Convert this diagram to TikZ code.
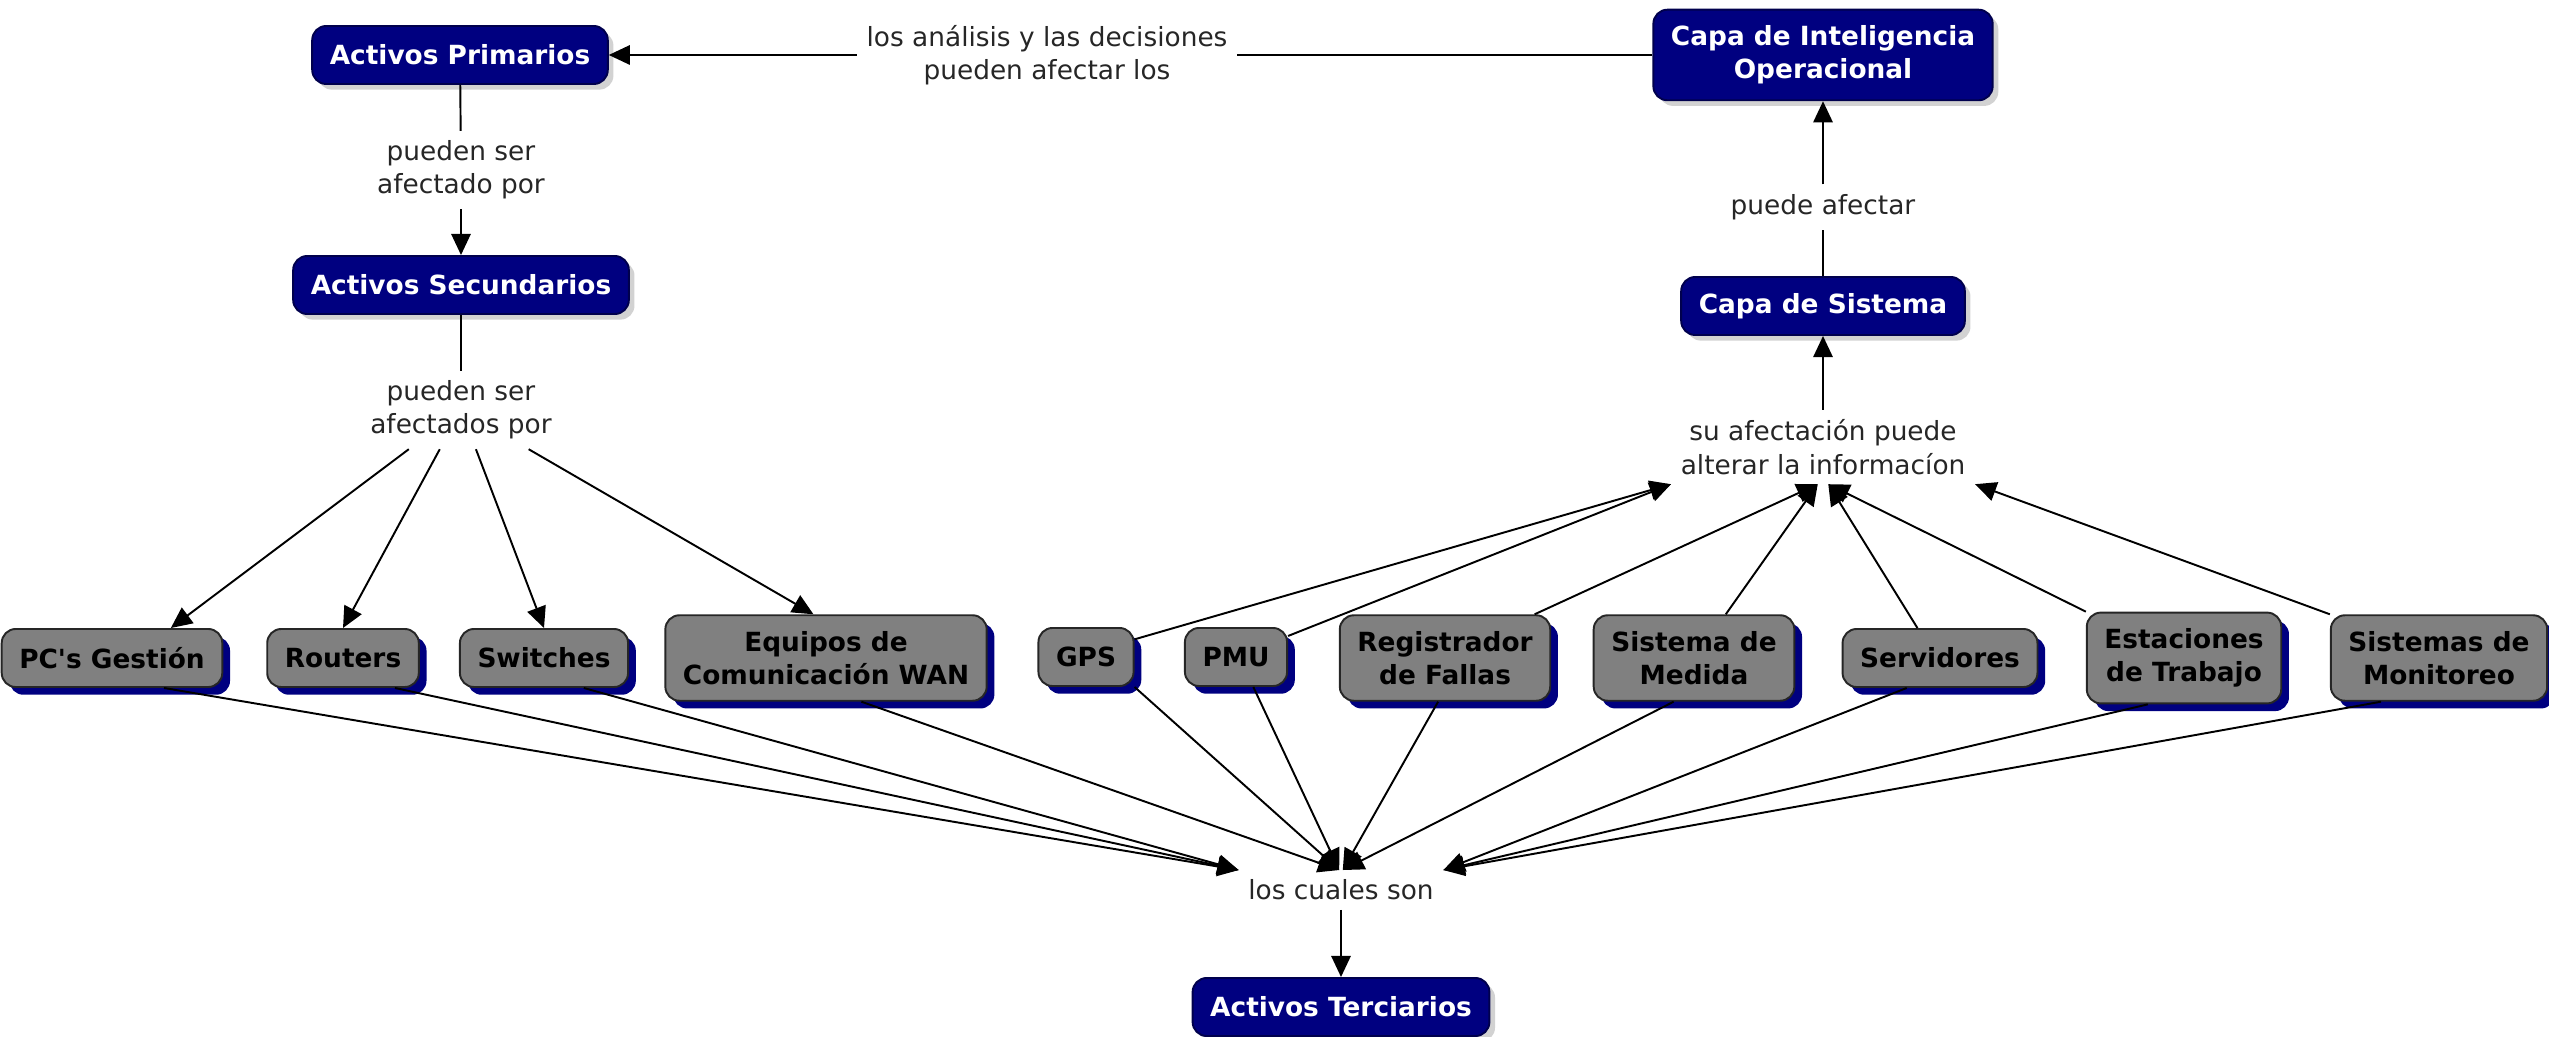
\documentclass[tikz,border=0pt]{standalone}
\usepackage{fontspec}
\setmainfont{DejaVu Sans}
\usetikzlibrary{arrows.meta, positioning, shadows}

\definecolor{navy}{RGB}{0,0,128}
\definecolor{nodegray}{RGB}{128,128,128}

\begin{document}
\begin{tikzpicture}[x=0.01cm, y=-0.01cm, line width=0.55pt]
    \tikzstyle{activo} = [draw=navy!60!black, fill=navy, text=white, rounded corners=4pt, align=center, font={\fontsize{7.5}{9.5}\selectfont\bfseries}, inner xsep=5pt, inner ysep=4.5pt, minimum height=16.5pt, drop shadow={shadow xshift=1.6pt, shadow yshift=-1.6pt, fill=black!35, opacity=0.5}];
    \tikzstyle{equipo} = [draw=black!85, fill=nodegray, text=black, rounded corners=4pt, align=center, font={\fontsize{7.5}{9.5}\selectfont\bfseries}, inner xsep=5pt, inner ysep=4.5pt, minimum height=16.5pt, drop shadow={shadow xshift=2.2pt, shadow yshift=-2.2pt, fill=navy, opacity=1}];
    \tikzstyle{enlace} = [text=black!85, align=center, font={\fontsize{7.5}{9.5}\selectfont}, inner sep=2.5pt];
    \tikzstyle{flecha} = [-{Triangle[length=6pt, width=5.5pt]}];

    \useasboundingbox (0,0) rectangle (2549,1037);

    % conceptos principales
    \node[activo] (ap) at (460, 55) {Activos Primarios};
    \node[activo] (asec) at (461, 285) {Activos Secundarios};
    \node[activo] (ci) at (1823, 55) {Capa de Inteligencia\\Operacional};
    \node[activo] (cs) at (1823, 306) {Capa de Sistema};
    \node[activo] (at) at (1341, 1007) {Activos Terciarios};

    % frases de enlace
    \node[enlace] (an) at (1047, 55) {los análisis y las decisiones\\pueden afectar los};
    \node[enlace] (p1) at (461, 170) {pueden ser\\afectado por};
    \node[enlace] (p2) at (461, 410) {pueden ser\\afectados por};
    \node[enlace] (pa) at (1823, 207) {puede afectar};
    \node[enlace] (su) at (1823, 447) {su afectación puede\\alterar la informacíon};
    \node[enlace] (cual) at (1341, 890) {los cuales son};

    % equipos
    \node[equipo] (pc) at (112, 658) {PC\textquotesingle s Gestión};
    \node[equipo] (rt) at (343, 658) {Routers};
    \node[equipo] (sw) at (544, 658) {Switches};
    \node[equipo] (wan) at (826, 658) {Equipos de\\Comunicación WAN};
    \node[equipo] (gps) at (1086, 657) {GPS};
    \node[equipo] (pmu) at (1236, 657) {PMU};
    \node[equipo] (reg) at (1445, 658) {Registrador\\de Fallas};
    \node[equipo] (med) at (1694, 658) {Sistema de\\Medida};
    \node[equipo] (serv) at (1940, 658) {Servidores};
    \node[equipo] (est) at (2184, 658) {Estaciones\\de Trabajo};
    \node[equipo] (mon) at (2439, 658) {Sistemas de\\Monitoreo};

    \draw (ap) -- (p1);
    \draw[flecha] (p1) -- (asec);
    \draw (asec) -- (p2);
    \draw[flecha] (p2) -- (pc.27);
    \draw[flecha] (p2) -- (rt.north);
    \draw[flecha] (p2) -- (sw.north);
    \draw[flecha] (p2) -- (wan.106);

    \draw (ci) -- (an);
    \draw[flecha] (an) -- (ap);
    \draw (cs) -- (pa);
    \draw[flecha] (pa) -- (ci);
    \draw[flecha] (su) -- (cs);

    \draw[flecha] (gps.20) -- (su.south west);
    \draw[flecha] (pmu.22) -- (su.south west);
    \draw[flecha] (reg.26) -- ([xshift=-1.5pt]su.south);
    \draw[flecha] (med.54) -- ([xshift=-1.5pt]su.south);
    \draw[flecha] (serv.127) -- ([xshift=1.5pt]su.south);
    \draw[flecha] (est.north west) -- ([xshift=1.5pt]su.south);
    \draw[flecha] (mon.north west) -- (su.south east);

    \draw[flecha] (pc.-30) -- (cual.north west);
    \draw[flecha] (rt.-30) -- (cual.north west);
    \draw[flecha] (sw.-37) -- (cual.north west);
    \draw[flecha] (wan.-51) -- ([xshift=-0.5pt]cual.north);
    \draw[flecha] (gps.south east) -- ([xshift=-0.5pt]cual.north);
    \draw[flecha] (pmu.-60) -- ([xshift=-0.5pt]cual.north);
    \draw[flecha] (reg.-99) -- ([xshift=0.5pt]cual.north);
    \draw[flecha] (med.-115) -- ([xshift=0.5pt]cual.north);
    \draw[flecha] (serv.-138) -- (cual.north east);
    \draw[flecha] (est.-128) -- (cual.north east);
    \draw[flecha] (mon.-143) -- (cual.north east);
    \draw[flecha] (cual) -- (at);
\end{tikzpicture}
\end{document}
